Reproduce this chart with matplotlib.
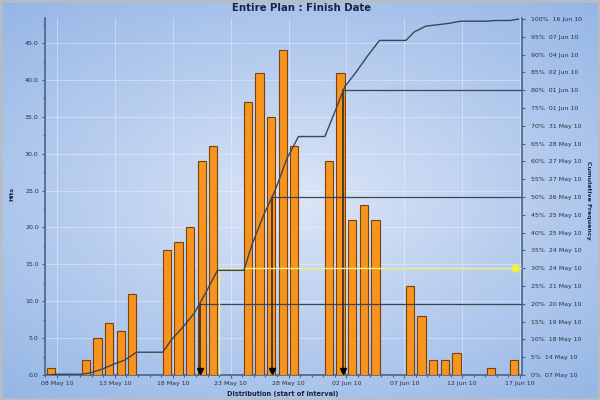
import numpy as np
import matplotlib
matplotlib.use('Agg')
import matplotlib.pyplot as plt
import matplotlib.dates as mdates
from matplotlib.ticker import MultipleLocator, FixedLocator, FormatStrFormatter
from matplotlib.patches import Rectangle

### Data
bar_dates = ['2010-05-07', '2010-05-10', '2010-05-11', '2010-05-12', '2010-05-13', '2010-05-14',
             '2010-05-17', '2010-05-18', '2010-05-19', '2010-05-20', '2010-05-21',
             '2010-05-24', '2010-05-25', '2010-05-26', '2010-05-27', '2010-05-28',
             '2010-05-31', '2010-06-01', '2010-06-02', '2010-06-03', '2010-06-04',
             '2010-06-07', '2010-06-08', '2010-06-09', '2010-06-10', '2010-06-11',
             '2010-06-14', '2010-06-16']
hits = [1, 2, 5, 7, 6, 11,
        17, 18, 20, 29, 31,
        37, 41, 35, 44, 31,
        29, 41, 21, 23, 21,
        12, 8, 2, 2, 3,
        1, 2]

pct_ticks = [0, 5, 10, 15, 20, 25, 30, 35, 40, 45, 50, 55, 60, 65, 70, 75, 80, 85, 90, 95, 100]
pct_dates = ['07 May 10', '14 May 10', '18 May 10', '19 May 10', '20 May 10', '21 May 10',
             '24 May 10', '24 May 10', '25 May 10', '25 May 10', '26 May 10', '27 May 10',
             '27 May 10', '28 May 10', '31 May 10', '01 Jun 10', '01 Jun 10', '02 Jun 10',
             '04 Jun 10', '07 Jun 10', '16 Jun 10']

percentiles = [20, 50, 80]
target_date = '2010-05-22'
target_pct = 30

first_tick = '2010-05-08'
last_tick = '2010-06-17'

### Colours
bar_color = '#f7941d'
bar_edge = '#7a4010'
axis_color = '#4a6388'
text_color = '#2a2f3a'
label_color = '#1a2640'

fig = plt.figure(figsize=(6, 4), dpi=100)

### Background gradient (light centre, darker blue edges)
bg = fig.add_axes([0, 0, 1, 1], zorder=-10)
yy, xx = np.mgrid[-1:1:200j, -1:1:300j]
r = np.sqrt((xx * 0.9) ** 2 + (yy * 1.0) ** 2) / 1.35
c0 = np.array([0.86, 0.90, 0.97])
c1 = np.array([0.58, 0.71, 0.90])
img = c0[None, None, :] * (1 - r[..., None]) + c1[None, None, :] * r[..., None]
bg.imshow(np.clip(img, 0, 1), aspect='auto', extent=[0, 1, 0, 1])
bg.axis('off')
fig.patches.append(Rectangle((0.002, 0.003), 0.996, 0.994, transform=fig.transFigure,
                             fill=False, edgecolor='#b8bcc4', lw=2))

ax = fig.add_axes([0.075, 0.0625, 0.795, 0.8925])
ax.set_facecolor('none')

starts = mdates.datestr2num(bar_dates)
hits = np.array(hits)
ax.bar(starts + 0.5, hits, width=0.72, color=bar_color, edgecolor=bar_edge, linewidth=0.8, zorder=3)

x0 = mdates.datestr2num('2010-05-07')
x1 = mdates.datestr2num(last_tick)
ax.set_xlim(x0 - 0.04, x1 + 0.17)
ax.set_ylim(0, 48.4)

xt = np.arange(mdates.datestr2num(first_tick), x1 + 0.5, 5)
ax.xaxis.set_major_locator(FixedLocator(xt))
ax.xaxis.set_minor_locator(FixedLocator(np.arange(x0, x1 + 1, 1)))
ax.xaxis.set_major_formatter(mdates.DateFormatter('%d %b %y'))
ax.yaxis.set_major_locator(MultipleLocator(5))
ax.yaxis.set_minor_locator(MultipleLocator(2.5))
ax.yaxis.set_major_formatter(FormatStrFormatter('%.1f'))

ax.grid(True, which='major', color='white', alpha=0.35, lw=0.7, zorder=0)
ax.tick_params(which='both', colors=axis_color, labelcolor=text_color, labelsize=4.5,
               length=2.5, width=0.8, pad=2)
ax.tick_params(which='minor', length=1.5)
for s in ['top', 'right']:
    ax.spines[s].set_visible(False)
for s in ['left', 'bottom']:
    ax.spines[s].set_color(axis_color)
    ax.spines[s].set_linewidth(1.2)

### Cumulative frequency on the right axis
ax2 = ax.twinx()
ax2.set_ylim(0, 100.3)
ax2.yaxis.set_major_locator(FixedLocator(pct_ticks))
ax2.set_yticklabels([f'{p}%  {d}' for p, d in zip(pct_ticks, pct_dates)])
ax2.tick_params(colors=axis_color, labelcolor=text_color, labelsize=4.5, length=2.5, width=0.8, pad=4)
for s in ['top', 'left', 'bottom']:
    ax2.spines[s].set_visible(False)
ax2.spines['right'].set_color(axis_color)
ax2.spines['right'].set_linewidth(1.2)

total = hits.sum()
cum_after = np.cumsum(hits) / total * 100
cum_before = cum_after - hits / total * 100

### line rises across each run of consecutive days and stays flat over gaps
line_x, line_y = [], []
for i in range(len(starts)):
    if i == 0 or starts[i] - starts[i - 1] > 1:
        line_x.append(starts[i] + 0.14)
        line_y.append(cum_before[i])
    line_x.append(starts[i] + 0.86)
    line_y.append(cum_after[i])
line_x = np.array(line_x)
line_y = np.array(line_y)
ax2.plot(line_x, line_y, color='#3a4658', lw=1.0, zorder=5)

x_right = ax.get_xlim()[1]
for p in percentiles:
    xp = np.interp(p, line_y, line_x)
    ax2.plot([xp, x_right], [p, p], color='#3a4658', lw=0.9, zorder=4)
    ax2.plot([xp, xp], [p, 1.2], color='#2a2020', lw=1.1, zorder=4)
    ax2.plot(xp, 1.2, marker='v', color='black', ms=5, zorder=6)

xt_target = mdates.datestr2num(target_date)
ax2.plot([xt_target, x_right], [target_pct, target_pct], color='#eef27a', lw=1.0, zorder=4)
ax2.plot([xt_target, xt_target], [0, target_pct], color='#eef27a', lw=1.0, zorder=4)
ax2.plot(x_right - 0.6, target_pct, marker='o', color='#f0f040', ms=5, zorder=6)

fig.text(0.502, 0.98, 'Entire Plan : Finish Date', ha='center', va='center',
         fontsize=7.3, fontweight='bold', color=label_color)
fig.text(0.472, 0.016, 'Distribution (start of interval)', ha='center', va='center',
         fontsize=4.8, fontweight='bold', color=label_color)
fig.text(0.02, 0.515, 'Hits', ha='center', va='center', rotation=90,
         fontsize=4.5, fontweight='bold', color=label_color)
fig.text(0.98, 0.5, 'Cumulative Frequency', ha='center', va='center', rotation=270,
         fontsize=4.5, fontweight='bold', color=label_color)

fig.savefig('out.png', dpi=100)
